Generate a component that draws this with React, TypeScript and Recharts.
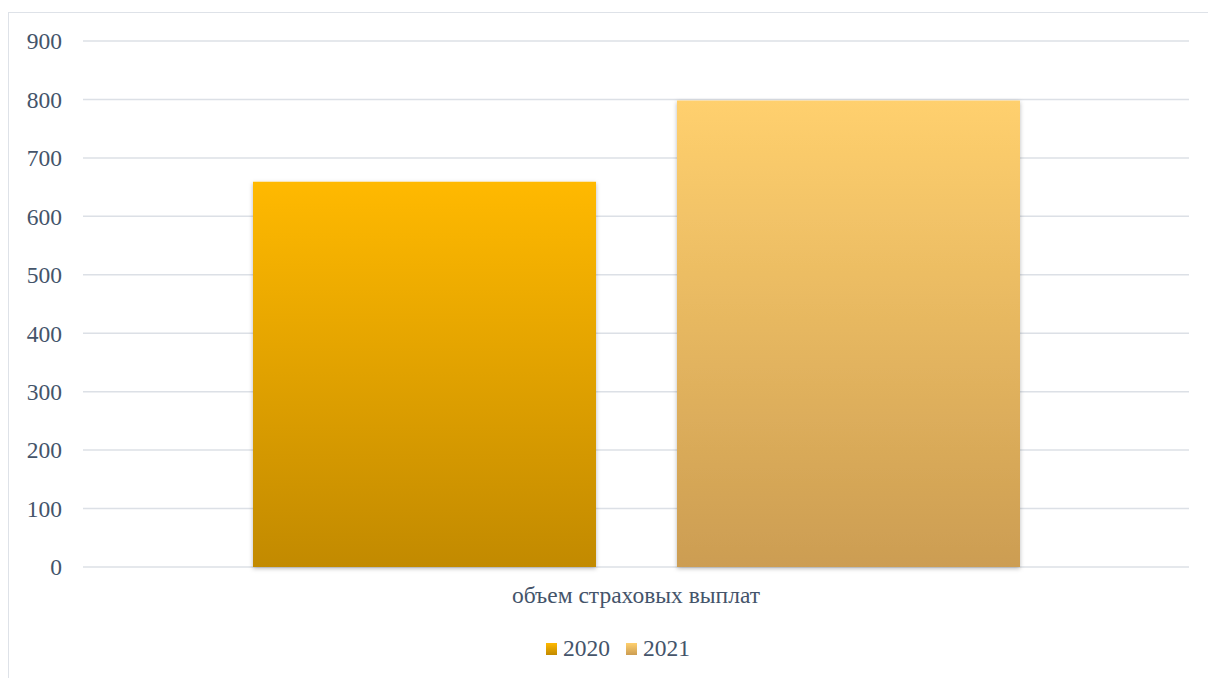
import React from "react";
import { BarChart, Bar, XAxis, YAxis, CartesianGrid, Legend } from "recharts";

const categories = ["объем страховых выплат"];
const values2020 = [659];
const values2021 = [798];
const yTicks = [0, 100, 200, 300, 400, 500, 600, 700, 800, 900];
const seriesNames = ["2020", "2021"];

const data = categories.map((c, i) => ({
  name: c,
  y2020: values2020[i],
  y2021: values2021[i],
}));

const FONT = '"Liberation Serif", "Times New Roman", serif';
const TEXT = "#44546A";

const legendGradients = [
  "linear-gradient(#FFB900, #C28A00)",
  "linear-gradient(#FFD06E, #CC9D52)",
];

const renderLegend = () => (
  <div
    style={{
      display: "flex",
      alignItems: "center",
      fontFamily: FONT,
      fontSize: 23.5,
      lineHeight: "24px",
      color: TEXT,
    }}
  >
    {seriesNames.map((n, i) => (
      <div
        key={n}
        style={{ display: "flex", alignItems: "center", marginRight: i === 0 ? 16 : 0 }}
      >
        <span
          style={{
            display: "inline-block",
            width: 11,
            height: 12,
            background: legendGradients[i],
            marginRight: 6,
            marginTop: 2,
          }}
        />
        <span>{n}</span>
      </div>
    ))}
  </div>
);

export default function App() {
  return (
    <div
      style={{
        position: "absolute",
        left: 8,
        top: 12,
        width: 1200,
        height: 665,
        borderTop: "1px solid #DEE2E8",
        borderLeft: "1px solid #DEE2E8",
        background: "#fff",
      }}
    >
      <BarChart
        width={1200}
        height={665}
        data={data}
        margin={{ top: 28, right: 20, left: 0, bottom: 0 }}
        barSize={343}
        barGap={81}
      >
        <defs>
          <linearGradient id="g2020" x1="0" y1="0" x2="0" y2="1">
            <stop offset="0%" stopColor="#FFB900" />
            <stop offset="100%" stopColor="#C28A00" />
          </linearGradient>
          <linearGradient id="g2021" x1="0" y1="0" x2="0" y2="1">
            <stop offset="0%" stopColor="#FFD06E" />
            <stop offset="100%" stopColor="#CC9D52" />
          </linearGradient>
          <filter id="shadow" x="-10%" y="-10%" width="120%" height="120%">
            <feDropShadow dx="0" dy="1.5" stdDeviation="2" floodColor="#000" floodOpacity="0.28" />
          </filter>
        </defs>
        <CartesianGrid vertical={false} stroke="#DCE0E6" strokeWidth={1.5} />
        <XAxis
          dataKey="name"
          height={111}
          tickLine={false}
          axisLine={false}
          tickSize={0}
          tickMargin={19}
          tick={{ fill: TEXT, fontSize: 23.5, fontFamily: FONT }}
        />
        <YAxis
          width={74}
          domain={[0, 900]}
          ticks={yTicks}
          interval={0}
          tickLine={false}
          axisLine={false}
          tickSize={0}
          tickMargin={21}
          tick={{ fill: TEXT, fontSize: 23.5, fontFamily: FONT }}
        />
        <Legend
          layout="horizontal"
          verticalAlign="middle"
          align="center"
          content={renderLegend}
          wrapperStyle={{ top: 623, left: 537, width: 300, height: 26 }}
        />
        <Bar
          dataKey="y2020"
          name={seriesNames[0]}
          fill="url(#g2020)"
          filter="url(#shadow)"
          isAnimationActive={false}
        />
        <Bar
          dataKey="y2021"
          name={seriesNames[1]}
          fill="url(#g2021)"
          filter="url(#shadow)"
          isAnimationActive={false}
        />
      </BarChart>
    </div>
  );
}
